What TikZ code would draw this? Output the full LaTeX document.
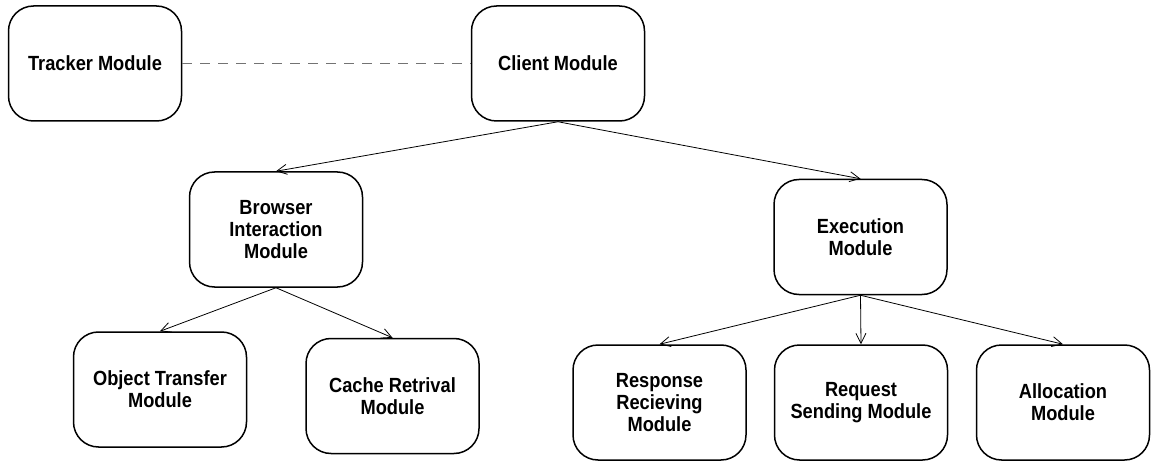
\documentclass[tikz,border=0pt]{standalone}
\usepackage{fontspec}
\setmainfont{Liberation Sans}[FakeStretch=0.89]
\usetikzlibrary{arrows.meta}

\tikzset{
  modbox/.style={draw=black, line width=1.5pt, rounded corners=25pt,
    minimum width=173pt, minimum height=115pt, inner sep=2pt,
    align=center, font=\fontsize{20.5}{22}\selectfont\bfseries},
  link/.style={draw=black, line width=0.8pt,
    -{Straight Barb[length=10pt,width=10pt,line width=0.8pt]}},
  dashline/.style={draw=black!55, line width=1.1pt, dash pattern=on 10pt off 8pt}
}

\begin{document}
\begin{tikzpicture}[x=1pt,y=-1pt]
  \useasboundingbox (0,0) rectangle (1151,465);

  % top level
  \node[modbox] (tracker) at (95,63.5) {Tracker Module};
  \node[modbox] (client) at (558,63.5) {Client Module};

  % second level
  \node[modbox] (browser) at (276,229.5) {Browser\\Interaction\\Module};
  \node[modbox] (exec) at (860.5,237) {Execution\\Module};

  % leaves
  \node[modbox] (object) at (160,389.5) {Object Transfer\\Module};
  \node[modbox] (cache) at (392.5,396) {Cache Retrival\\Module};
  \node[modbox] (response) at (659.5,402.5) {Response\\Recieving\\Module};
  \node[modbox] (request) at (861,402.5) {Request\\Sending Module};
  \node[modbox] (alloc) at (1063,402.5) {Allocation\\Module};

  % connectors
  \draw[dashline] (tracker.east) -- (client.west);
  \draw[link] (client.south) -- (browser.north);
  \draw[link] (client.south) -- (exec.north);
  \draw[link] (browser.south) -- (object.north);
  \draw[link] (browser.south) -- (cache.north);
  \draw[link] (exec.south) -- (response.north);
  \draw[link] (exec.south) -- (request.north);
  \draw[link] (exec.south) -- (alloc.north);
\end{tikzpicture}
\end{document}
